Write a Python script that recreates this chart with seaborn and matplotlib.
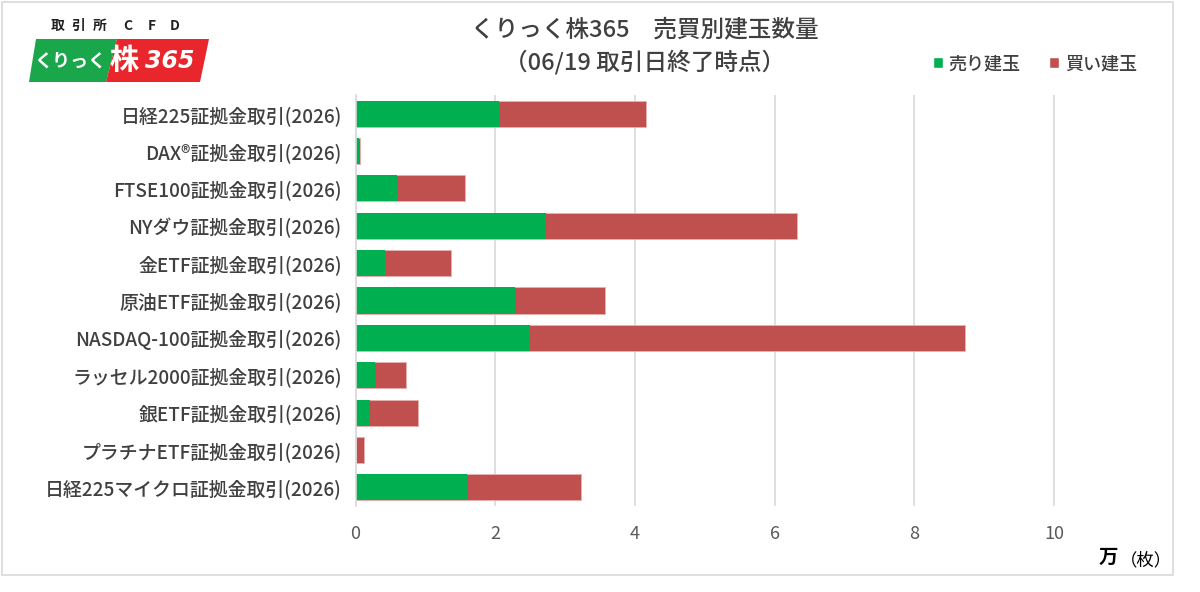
import matplotlib
matplotlib.use("Agg")
import matplotlib.pyplot as plt
import seaborn as sns
import pandas as pd
from matplotlib.patches import Polygon, Rectangle, Patch

sns.set_style("white")
plt.rcParams['font.family'] = ['Noto Sans CJK JP', 'DejaVu Sans']

categories = [
    "日経225証拠金取引(2026)",
    "DAX®証拠金取引(2026)",
    "FTSE100証拠金取引(2026)",
    "NYダウ証拠金取引(2026)",
    "金ETF証拠金取引(2026)",
    "原油ETF証拠金取引(2026)",
    "NASDAQ-100証拠金取引(2026)",
    "ラッセル2000証拠金取引(2026)",
    "銀ETF証拠金取引(2026)",
    "プラチナETF証拠金取引(2026)",
    "日経225マイクロ証拠金取引(2026)",
]
# units: 万枚
sell = [2.05, 0.045, 0.59, 2.72, 0.42, 2.28, 2.50, 0.28, 0.21, 0.01, 1.59]
buy = [2.11, 0.023, 0.97, 3.60, 0.95, 1.29, 6.22, 0.44, 0.68, 0.11, 1.63]
xticks = [0, 2, 4, 6, 8, 10]

GREEN = "#00B050"
RED = "#C0504D"
TXT = "#404040"

df = pd.DataFrame({"cat": categories, "sell": sell, "buy": buy})
df["total"] = df["sell"] + df["buy"]

fig = plt.figure(figsize=(12, 5.92), dpi=100)
ax = fig.add_axes([355.6 / 1200, 1 - 506 / 592, (1159 - 355.6) / 1200, (506 - 95) / 592])

sns.barplot(data=df, x="total", y="cat", color=RED, saturation=1, width=0.7,
            orient="h", ax=ax, edgecolor="#e8b0ae", linewidth=0.6)
sns.barplot(data=df, x="sell", y="cat", color=GREEN, saturation=1, width=0.7,
            orient="h", ax=ax, linewidth=0)

ax.set_xlim(0, 11.5)
ax.set_xticks(xticks)
ax.set_xticklabels([str(t) for t in xticks], fontsize=13, color="#595959")
ax.tick_params(axis="y", labelsize=13.6, labelcolor=TXT, length=0, pad=10)
for lab in ax.get_yticklabels():
    lab.set_fontweight("medium")
ax.tick_params(axis="x", length=0, pad=14)
ax.set_xlabel("")
ax.set_ylabel("")
ax.grid(axis="x", color="#d9d9d9", linewidth=1.2)
ax.set_axisbelow(True)
for s in ["top", "right", "bottom"]:
    ax.spines[s].set_visible(False)
ax.spines["left"].set_color("#d9d9d9")
ax.spines["left"].set_linewidth(1.2)

# outer frame
fig.patches.append(Rectangle((2 / 1200, 1 - 575 / 592), 1171 / 1200, 573 / 592,
                             transform=fig.transFigure, fill=False,
                             edgecolor="#d9d9d9", linewidth=1.2))

# titles
fig.text(645 / 1200, 1 - 30 / 592, "くりっく株365　売買別建玉数量", ha="center", va="center",
         fontsize=17, color=TXT, fontweight="medium")
fig.text(645 / 1200, 1 - 62 / 592, "（06/19 取引日終了時点）", ha="center", va="center",
         fontsize=17, color=TXT, fontweight="medium")

# legend
handles = [Patch(facecolor=GREEN, label="売り建玉"), Patch(facecolor=RED, label="買い建玉")]
leg = fig.legend(handles=handles, loc="center", bbox_to_anchor=(1035 / 1200, 1 - 64 / 592),
                 ncol=2, frameon=False, fontsize=13, handlelength=0.55, handleheight=0.55,
                 handletextpad=0.3, columnspacing=1.6, labelcolor=TXT)
for t in leg.get_texts():
    t.set_fontweight("medium")

# unit labels
fig.text(1108 / 1200, 1 - 557 / 592, "万", ha="center", va="center", fontsize=14,
         fontweight="bold", color="black")
fig.text(1146 / 1200, 1 - 560 / 592, "（枚）", ha="center", va="center", fontsize=12.5,
         color="black")

# logo
def fx(x):
    return x / 1200

def fy(y):
    return 1 - y / 592

fig.patches.append(Polygon([(fx(36), fy(39)), (fx(117), fy(39)), (fx(106), fy(82)), (fx(29), fy(82))],
                           closed=True, transform=fig.transFigure, facecolor="#1aa64a", edgecolor="none"))
fig.patches.append(Polygon([(fx(117), fy(39)), (fx(209), fy(39)), (fx(200), fy(82)), (fx(106), fy(82))],
                           closed=True, transform=fig.transFigure, facecolor="#e8262b", edgecolor="none"))
for ch, xc in zip(["取", "引", "所", "C", "F", "D"], [58, 78, 100, 128, 152, 175]):
    fig.text(fx(xc), fy(26), ch, ha="center", va="center", fontsize=10,
             fontweight="bold", color="#222222")
fig.text(fx(70), fy(61), "くりっく", ha="center", va="center", fontsize=13,
         fontweight="bold", color="white", style="italic")
fig.text(fx(124), fy(60), "株", ha="center", va="center", fontsize=21,
         fontweight="bold", color="white")
fig.text(fx(170), fy(61), "365", ha="center", va="center", fontsize=17,
         fontweight="bold", color="white", style="italic", family="DejaVu Sans")

fig.savefig("out.png", dpi=100)
